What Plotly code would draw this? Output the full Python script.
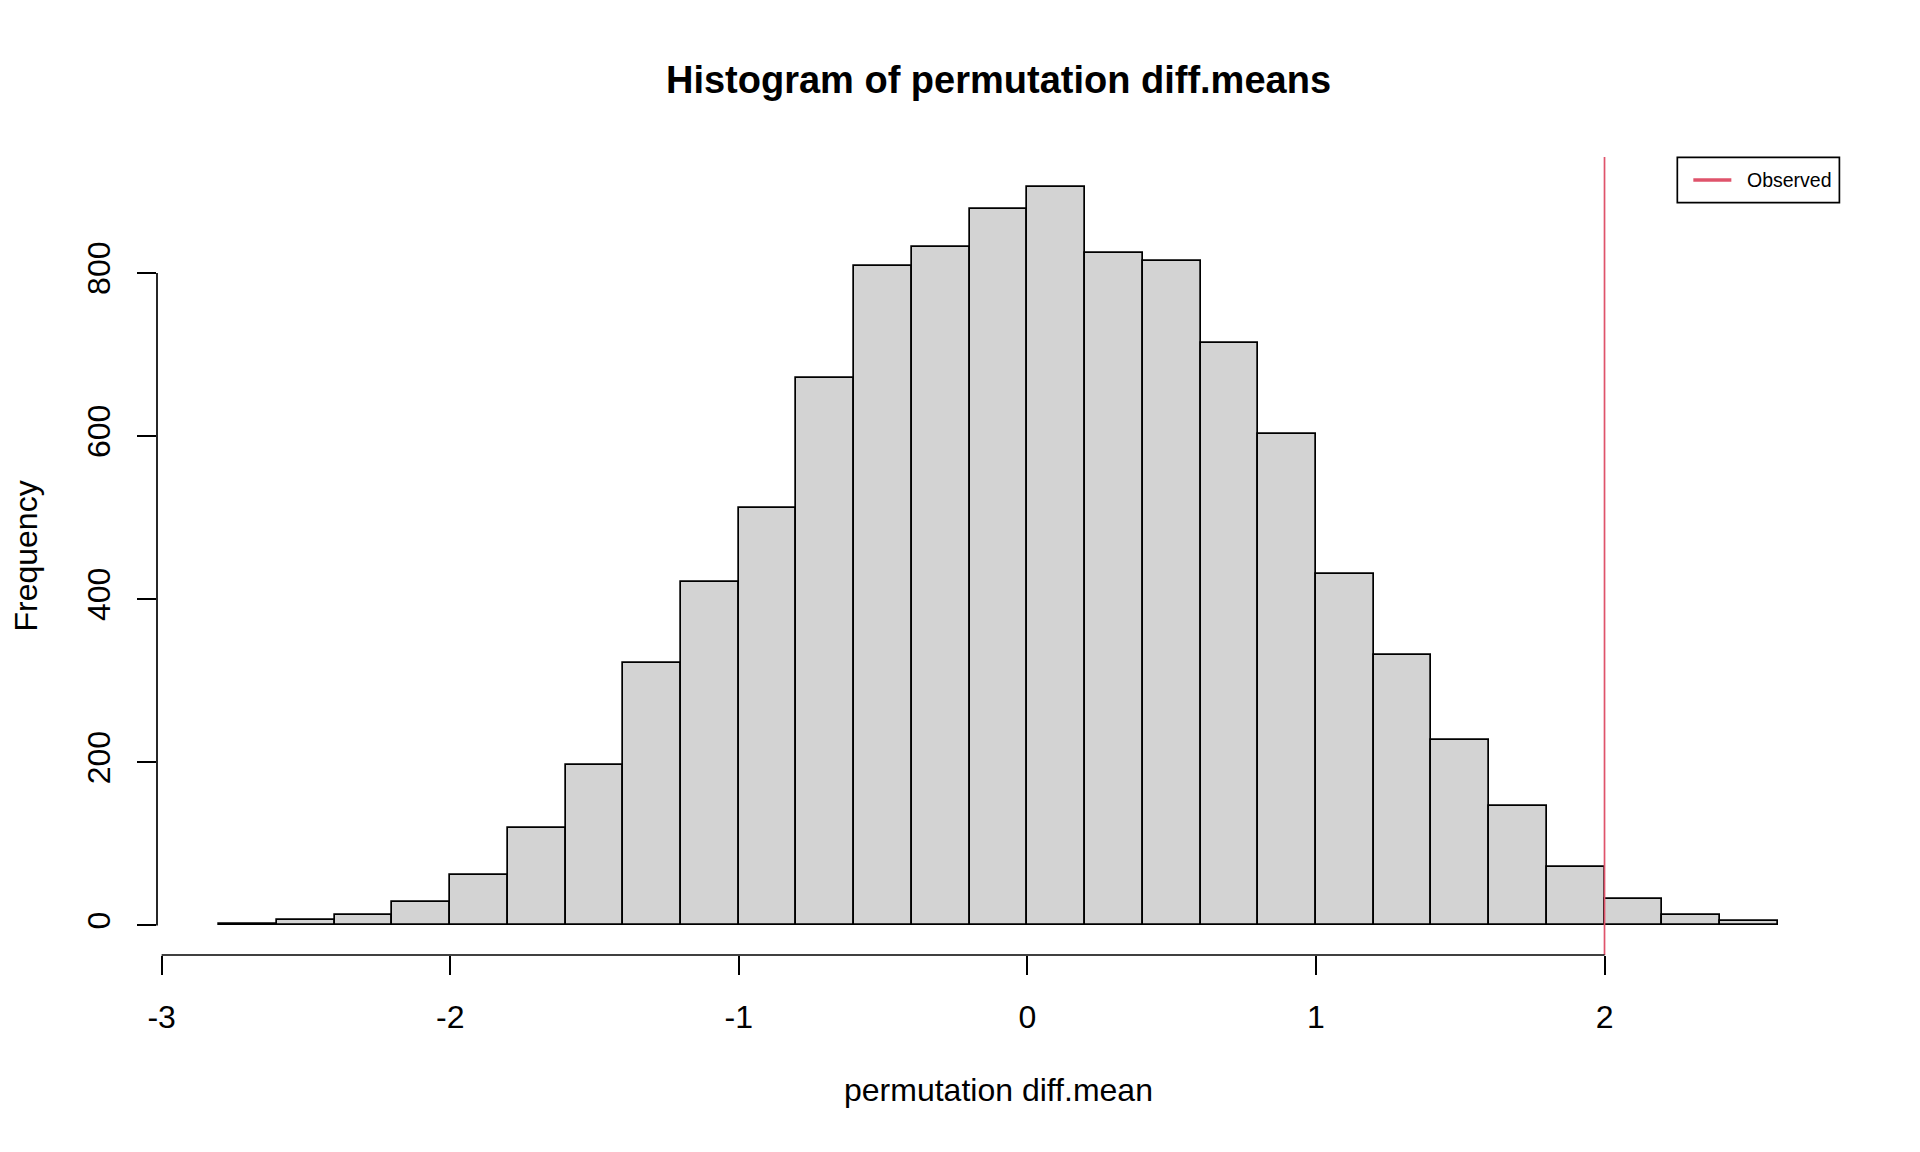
import plotly.graph_objects as go

# ---- data ----
BIN_EDGES = [-2.8, -2.6, -2.4, -2.2, -2.0, -1.8, -1.6, -1.4, -1.2, -1.0, -0.8,
             -0.6, -0.4, -0.2, 0.0, 0.2, 0.4, 0.6, 0.8, 1.0, 1.2, 1.4, 1.6,
             1.8, 2.0, 2.2, 2.4, 2.6]
COUNTS = [2, 7, 13, 29, 62, 120, 197, 322, 421, 512, 671, 809, 832, 879,
          906, 825, 815, 714, 602, 431, 332, 228, 146, 72, 32, 13, 6]
OBSERVED = 2.0
X_TICKS = [-3, -2, -1, 0, 1, 2]
Y_TICKS = [0, 200, 400, 600, 800]

TITLE = "Histogram of permutation diff.means"
X_LABEL = "permutation diff.mean"
Y_LABEL = "Frequency"
LEGEND_LABEL = "Observed"

# ---- derived ----
centers = [(a + b) / 2 for a, b in zip(BIN_EDGES[:-1], BIN_EDGES[1:])]
widths = [b - a for a, b in zip(BIN_EDGES[:-1], BIN_EDGES[1:])]
xspan = BIN_EDGES[-1] - BIN_EDGES[0]
x_range = [BIN_EDGES[0] - 0.04 * xspan, BIN_EDGES[-1] + 0.04 * xspan]
ymax = max(COUNTS)
y_range = [-0.04 * ymax, 1.04 * ymax]

FONT = "Liberation Sans, Arial, sans-serif"
RED = "#DF536B"
LW = 1.7

# page offset of the plot div (default body margin)
OFF = 8
W, H = 1920 - OFF, 1152 - OFF
plot_left, plot_right = 157.4 - OFF, 1839.6 - OFF
plot_top, plot_bottom = 157.0 - OFF, 955.5 - OFF
L, R = plot_left, W - plot_right
T, B = plot_top, H - plot_bottom
pw = plot_right - plot_left
ph = plot_bottom - plot_top


def px_to_paper_x(px):
    return (px - OFF - plot_left) / pw


def px_to_paper_y(py):
    return (plot_bottom - (py - OFF)) / ph


fig = go.Figure()
fig.add_trace(go.Bar(
    x=centers, y=COUNTS, width=widths,
    marker=dict(color="#D3D3D3", line=dict(color="black", width=LW)),
    showlegend=False, hoverinfo="skip",
))
fig.add_vline(x=OBSERVED, line=dict(color=RED, width=LW), layer="above")

# R-style axis lines spanning first to last tick
fig.add_shape(type="line", xref="x", yref="paper",
              x0=min(X_TICKS), x1=max(X_TICKS), y0=0, y1=0,
              line=dict(color="black", width=LW))
fig.add_shape(type="line", xref="paper", yref="y",
              x0=0, x1=0, y0=min(Y_TICKS), y1=max(Y_TICKS),
              line=dict(color="black", width=LW))

# legend box (R legend, topright)
fig.add_shape(type="rect", xref="paper", yref="paper",
              x0=px_to_paper_x(1677), x1=px_to_paper_x(1839),
              y0=px_to_paper_y(202.7), y1=px_to_paper_y(157.3),
              line=dict(color="black", width=LW), fillcolor="white",
              layer="above")
fig.add_shape(type="line", xref="paper", yref="paper",
              x0=px_to_paper_x(1693), x1=px_to_paper_x(1731),
              y0=px_to_paper_y(180), y1=px_to_paper_y(180),
              line=dict(color=RED, width=3.3), layer="above")

fig.update_layout(
    width=W, height=H,
    margin=dict(l=L, r=R, t=T, b=B, pad=0),
    paper_bgcolor="white", plot_bgcolor="white",
    font=dict(family=FONT, color="black", size=32),
    bargap=0, showlegend=False,
    title=dict(text="<b>" + TITLE + "</b>", x=0.5, xref="paper",
               xanchor="center", y=1 - (80 - OFF) / H, yref="container",
               yanchor="middle", font=dict(size=38, family=FONT, color="black")),
    xaxis=dict(range=x_range, tickmode="array", tickvals=X_TICKS,
               ticktext=[str(v) for v in X_TICKS],
               ticks="outside", ticklen=19, tickwidth=LW, tickcolor="black",
               showline=False, showgrid=False, zeroline=False,
               ticklabelstandoff=15,
               tickfont=dict(size=32, family=FONT, color="black")),
    yaxis=dict(range=y_range, tickmode="array", tickvals=Y_TICKS,
               ticktext=[str(v) for v in Y_TICKS],
               ticks="outside", ticklen=19, tickwidth=LW, tickcolor="black",
               showline=False, showgrid=False, zeroline=False,
               tickangle=-90, ticklabelstandoff=14,
               tickfont=dict(size=32, family=FONT, color="black")),
    annotations=[
        dict(text=X_LABEL, xref="paper", yref="paper", x=0.5,
             y=px_to_paper_y(1091), xanchor="center", yanchor="middle",
             showarrow=False, font=dict(size=32, family=FONT, color="black")),
        dict(text=Y_LABEL, xref="paper", yref="paper",
             x=px_to_paper_x(26), y=0.5, xanchor="center", yanchor="middle",
             textangle=-90, showarrow=False,
             font=dict(size=32, family=FONT, color="black")),
        dict(text=LEGEND_LABEL, xref="paper", yref="paper",
             x=px_to_paper_x(1745), y=px_to_paper_y(180),
             xanchor="left", yanchor="middle", showarrow=False,
             font=dict(size=19.5, family=FONT, color="black")),
    ],
)

fig.write_html("out.html", config={"displayModeBar": False})
